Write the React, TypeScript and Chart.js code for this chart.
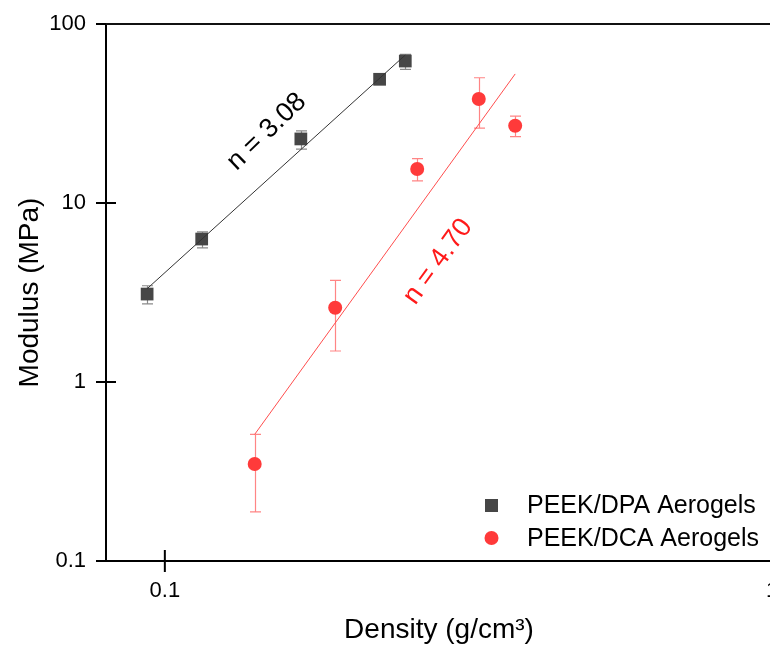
import React, { useEffect, useRef } from 'react';
import { Chart, registerables } from 'chart.js';

Chart.register(...registerables);

// ---- data ----
const dpaDensity = [0.0935, 0.115, 0.1675, 0.2258, 0.2489];
const dpaModulus = [3.1, 6.29, 22.8, 49.1, 62.1];
const dpaErrLow = [2.73, 5.61, 20.0, 49.1, 55.8];
const dpaErrHigh = [3.45, 6.89, 25.3, 49.1, 67.7];

const dcaDensity = [0.1406, 0.1908, 0.2604, 0.3289, 0.3776];
const dcaModulus = [0.348, 2.6, 15.5, 38.1, 27.0];
const dcaErrLow = [0.188, 1.49, 13.3, 26.2, 23.5];
const dcaErrHigh = [0.51, 3.7, 17.7, 50.1, 30.6];

const dpaFitDensity = [0.0935, 0.2489];
const dpaFitModulus = [3.32, 67.1];
const dcaFitDensity = [0.1406, 0.3776];
const dcaFitModulus = [0.51, 52.6];

const xTicks = [0.1, 1];
const yTicks = [0.1, 1, 10, 100];
const seriesLabels = ['PEEK/DPA Aerogels', 'PEEK/DCA Aerogels'];
const annotationTexts = ['n = 3.08', 'n = 4.70'];
const annotationDensity = [0.1472, 0.2818];
const annotationModulus = [25.0, 4.7];

// ---- styles ----
const FONT = '"Liberation Sans", Arial, Helvetica, sans-serif';
const DPA_COLOR = '#464646';
const DPA_ERR = '#8a8a8a';
const DPA_LINE = '#333333';
const DCA_COLOR = '#ff3a3a';
const DCA_ERR = '#ff8585';
const DCA_LINE = '#ff4d4d';
const annotationAngles = [-44, -54];
const annotationColors = ['#000000', '#ff1a1a'];

const pts = (xs: number[], ys: number[]) => xs.map((x, i) => ({ x, y: ys[i] }));

const decorPlugin = {
  id: 'decor',
  beforeDatasetsDraw(chart: any) {
    const { ctx, scales } = chart;
    const x = scales.x;
    const y = scales.y;
    const drawErr = (xs: number[], lo: number[], hi: number[], color: string, cap: number) => {
      ctx.save();
      ctx.strokeStyle = color;
      ctx.lineWidth = 1.2;
      xs.forEach((xv, i) => {
        if (lo[i] === hi[i]) return;
        const px = Math.round(x.getPixelForValue(xv)) + 0.5;
        const pt = y.getPixelForValue(hi[i]);
        const pb = y.getPixelForValue(lo[i]);
        ctx.beginPath();
        ctx.moveTo(px, pt);
        ctx.lineTo(px, pb);
        ctx.moveTo(px - cap, pt);
        ctx.lineTo(px + cap, pt);
        ctx.moveTo(px - cap, pb);
        ctx.lineTo(px + cap, pb);
        ctx.stroke();
      });
      ctx.restore();
    };
    drawErr(dpaDensity, dpaErrLow, dpaErrHigh, DPA_ERR, 5.5);
    drawErr(dcaDensity, dcaErrLow, dcaErrHigh, DCA_ERR, 5.5);
  },
  afterDraw(chart: any) {
    const { ctx, scales, chartArea } = chart;
    const x = scales.x;
    const y = scales.y;
    ctx.save();
    // top frame line
    ctx.strokeStyle = '#111';
    ctx.lineWidth = 2;
    ctx.beginPath();
    ctx.moveTo(chartArea.left - 10, chartArea.top);
    ctx.lineTo(chartArea.right + 40, chartArea.top);
    ctx.stroke();
    // crossing tick marks
    ctx.strokeStyle = '#000';
    ctx.lineWidth = 2;
    xTicks.forEach((v) => {
      const px = x.getPixelForValue(v);
      ctx.beginPath();
      ctx.moveTo(px, chartArea.bottom - 11);
      ctx.lineTo(px, chartArea.bottom + 11);
      ctx.stroke();
    });
    yTicks.forEach((v) => {
      const py = y.getPixelForValue(v);
      const inner = v === 0.1 || v === 100 ? 0 : 10;
      ctx.beginPath();
      ctx.moveTo(chartArea.left - 10, py);
      ctx.lineTo(chartArea.left + inner, py);
      ctx.stroke();
    });
    // annotations
    annotationTexts.forEach((t, i) => {
      const px = x.getPixelForValue(annotationDensity[i]);
      const py = y.getPixelForValue(annotationModulus[i]);
      ctx.save();
      ctx.translate(px, py);
      ctx.rotate((annotationAngles[i] * Math.PI) / 180);
      ctx.font = `27px ${FONT}`;
      ctx.fillStyle = annotationColors[i];
      ctx.textAlign = 'center';
      ctx.textBaseline = 'middle';
      ctx.fillText(t, 0, 0);
      ctx.restore();
    });
    // legend
    const lx = 491.5;
    const rows = [505.5, 538];
    ctx.fillStyle = DPA_COLOR;
    ctx.fillRect(lx - 6.5, rows[0] - 6.5, 13, 13);
    ctx.fillStyle = DCA_COLOR;
    ctx.beginPath();
    ctx.arc(lx, rows[1], 7, 0, Math.PI * 2);
    ctx.fill();
    ctx.fillStyle = '#000';
    ctx.font = `25px ${FONT}`;
    ctx.textAlign = 'left';
    ctx.textBaseline = 'middle';
    seriesLabels.forEach((s, i) => ctx.fillText(s, 527, rows[i] + 1));
    ctx.restore();
  },
};

export default function App() {
  const ref = useRef<HTMLCanvasElement>(null);
  useEffect(() => {
    const chart = new Chart(ref.current as HTMLCanvasElement, {
      type: 'scatter',
      data: {
        datasets: [
          {
            label: 'DPA fit',
            data: pts(dpaFitDensity, dpaFitModulus),
            showLine: true,
            borderColor: DPA_LINE,
            borderWidth: 1,
            pointRadius: 0,
            order: 0,
          },
          {
            label: 'DCA fit',
            data: pts(dcaFitDensity, dcaFitModulus),
            showLine: true,
            borderColor: DCA_LINE,
            borderWidth: 1,
            pointRadius: 0,
            order: 0,
          },
          {
            label: seriesLabels[0],
            data: pts(dpaDensity, dpaModulus),
            pointStyle: 'rect',
            pointRadius: 9,
            backgroundColor: DPA_COLOR,
            borderWidth: 0,
            order: 1,
          },
          {
            label: seriesLabels[1],
            data: pts(dcaDensity, dcaModulus),
            pointStyle: 'circle',
            pointRadius: 7,
            backgroundColor: DCA_COLOR,
            borderWidth: 0,
            order: 1,
          },
        ],
      },
      options: {
        responsive: false,
        animation: false,
        devicePixelRatio: 1,
        layout: { padding: { top: 24, right: 28, left: 0, bottom: 0 } },
        plugins: { legend: { display: false }, tooltip: { enabled: false } },
        scales: {
          x: {
            type: 'logarithmic',
            min: 0.08,
            max: 1,
            afterBuildTicks: (s: any) => {
              s.ticks = xTicks.map((v) => ({ value: v }));
            },
            afterFit: (s: any) => {
              s.height = 90;
            },
            grid: { display: true, drawOnChartArea: false, color: 'rgba(0,0,0,0)', tickLength: 10 },
            border: { display: true, color: '#000', width: 2 },
            ticks: {
              autoSkip: false,
              maxRotation: 0,
              padding: 7,
              color: '#000',
              font: { family: FONT, size: 22 },
              callback: (v: any) => String(v),
            },
            title: {
              display: true,
              text: 'Density (g/cm³)',
              color: '#000',
              font: { family: FONT, size: 28 },
              padding: { top: 0, bottom: 4 },
            },
          },
          y: {
            type: 'logarithmic',
            min: 0.1,
            max: 100,
            afterBuildTicks: (s: any) => {
              s.ticks = yTicks.map((v) => ({ value: v }));
            },
            afterFit: (s: any) => {
              s.width = 106;
            },
            grid: { display: true, drawOnChartArea: false, color: 'rgba(0,0,0,0)', tickLength: 10 },
            border: { display: true, color: '#000', width: 2 },
            ticks: {
              autoSkip: false,
              padding: 10,
              color: '#000',
              font: { family: FONT, size: 22 },
              callback: (v: any) => String(v),
            },
            title: {
              display: true,
              text: 'Modulus (MPa)',
              color: '#000',
              font: { family: FONT, size: 28 },
              padding: { top: 13, bottom: 0 },
            },
          },
        },
      },
      plugins: [decorPlugin],
    } as any);
    return () => chart.destroy();
  }, []);
  return (
    <div
      style={{
        position: 'fixed',
        left: 0,
        top: 0,
        width: 770,
        height: 651,
        overflow: 'hidden',
        background: '#fff',
      }}
    >
      <canvas ref={ref} width={800} height={651} style={{ display: 'block' }} />
    </div>
  );
}
